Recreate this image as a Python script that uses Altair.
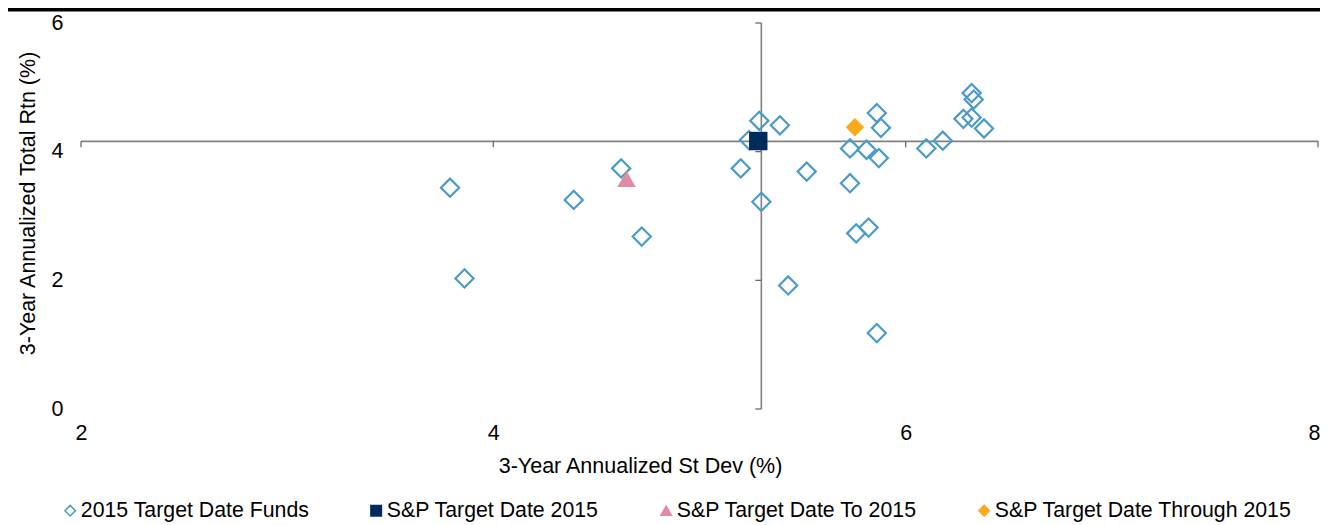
import altair as alt
import pandas as pd

# ---- data ----
series_names = ["2015 Target Date Funds", "S&P Target Date 2015",
                "S&P Target Date To 2015", "S&P Target Date Through 2015"]

fund_sd = [3.79, 3.86, 4.39, 4.62, 4.72, 5.20, 5.30, 5.29, 5.24, 5.39,
           5.43, 5.52, 5.73, 5.81, 5.87, 5.73, 5.86, 5.88, 5.76, 5.82,
           5.86, 6.10, 6.18, 6.28, 6.32, 6.33, 6.32, 6.38]
fund_rtn = [3.44, 2.03, 3.25, 3.74, 2.68, 3.74, 3.22, 4.48, 4.18, 4.41,
            1.92, 3.69, 4.05, 4.03, 3.90, 3.51, 4.60, 4.37, 2.73, 2.82,
            1.18, 4.05, 4.17, 4.51, 4.91, 4.81, 4.53, 4.36]

index_names = ["S&P Target Date 2015", "S&P Target Date To 2015", "S&P Target Date Through 2015"]
index_sd = [5.285, 4.646, 5.754]
index_rtn = [4.165, 3.574, 4.38]

x_ticks = [2, 4, 6, 8]
y_ticks = [0, 2, 4, 6]
cross_sd = 5.30    # where the vertical axis crosses
cross_rtn = 4.16   # where the horizontal axis crosses

# ---- styles ----
FONT = "Liberation Sans"
FS = 21.5
LEG_FS = 21.3
AXIS_GRAY = "#808080"
series_shapes = ["diamond", "square", "triangle-up", "diamond"]
series_stroke = ["#4B9BC7", "#002B5C", "#DE8BA3", "#FBA91C"]
series_fill = ["transparent", "#002B5C", "#DE8BA3", "#FBA91C"]

W, H = 1237, 386

funds = pd.DataFrame({"series": [series_names[0]] * len(fund_sd), "sd": fund_sd, "rtn": fund_rtn})
index = pd.DataFrame({"series": index_names, "sd": index_sd, "rtn": index_rtn})

xscale = alt.Scale(domain=[2, 8], nice=False, zero=False)
yscale = alt.Scale(domain=[0, 6], nice=False, zero=False)

last_x = f"datum.value == {x_ticks[-1]}"
xaxis = alt.Axis(title="3-Year Annualized St Dev (%)", values=x_ticks,
                 labelPadding=24, labelBaseline="middle",
                 labelAlign=alt.ConditionalAxisLabelAlign(condition={"test": last_x, "value": "right"}, value="center"),
                 labelOffset=alt.ConditionalAxisNumber(condition={"test": last_x, "value": 2}, value=0),
                 titleX=559, titleY=57, titleAlign="center", titleBaseline="middle")
yaxis = alt.Axis(title="3-Year Annualized Total Rtn (%)", values=y_ticks,
                 labelPadding=18,
                 titleX=-53, titleY=180, titleAngle=270, titleAlign="center",
                 titleBaseline="middle")

legend = alt.Legend(
    title=None, orient="none", legendX=-21.5, legendY=477, direction="horizontal",
    columns=4, columnPadding=56, labelOffset=0, symbolSize=110,
    symbolStrokeWidth=1.5, labelFontSize=LEG_FS, labelFont=FONT, labelColor="black",
    labelLimit=500,
)


def series_enc():
    return dict(
        x=alt.X("sd:Q", scale=xscale, axis=xaxis),
        y=alt.Y("rtn:Q", scale=yscale, axis=yaxis),
        shape=alt.Shape("series:N", scale=alt.Scale(domain=series_names, range=series_shapes), legend=legend),
        stroke=alt.Stroke("series:N", scale=alt.Scale(domain=series_names, range=series_stroke), legend=legend),
        fill=alt.Fill("series:N", scale=alt.Scale(domain=series_names, range=series_fill), legend=legend),
    )


fund_pts = alt.Chart(funds).mark_point(opacity=1, size=330, strokeWidth=2.2).encode(**series_enc())
index_pts = alt.Chart(index).mark_point(opacity=1, size=340, strokeWidth=0).encode(**series_enc())

hline = alt.Chart(pd.DataFrame({"sd": [x_ticks[0]], "sd2": [x_ticks[-1]], "rtn": [cross_rtn]})).mark_rule(
    color=AXIS_GRAY, strokeWidth=1.6).encode(
    x=alt.X("sd:Q", scale=xscale, axis=xaxis), x2="sd2:Q",
    y=alt.Y("rtn:Q", scale=yscale, axis=yaxis))

vline = alt.Chart(pd.DataFrame({"sd": [cross_sd], "rtn": [y_ticks[0]], "rtn2": [y_ticks[-1]]})).mark_rule(
    color=AXIS_GRAY, strokeWidth=1.6).encode(
    x=alt.X("sd:Q", scale=xscale, axis=xaxis),
    y=alt.Y("rtn:Q", scale=yscale, axis=yaxis), y2="rtn2:Q")

xtick_marks = alt.Chart(pd.DataFrame({"sd": x_ticks, "rtn": [cross_rtn] * len(x_ticks)})).mark_rule(
    color="#6a6a6a", strokeWidth=1.3, y2Offset=6).encode(
    x=alt.X("sd:Q", scale=xscale, axis=xaxis),
    y=alt.Y("rtn:Q", scale=yscale, axis=yaxis), y2="rtn:Q")

ytick_marks = alt.Chart(pd.DataFrame({"sd": [cross_sd] * len(y_ticks), "rtn": y_ticks})).mark_rule(
    color="#6a6a6a", strokeWidth=1.3, x2Offset=-6).encode(
    x=alt.X("sd:Q", scale=xscale, axis=xaxis), x2="sd:Q",
    y=alt.Y("rtn:Q", scale=yscale, axis=yaxis))

top_bar = alt.Chart(pd.DataFrame({"k": [0]})).mark_rect(color="black").encode(
    x=alt.value(-73), x2=alt.value(W + 2), y=alt.value(-15), y2=alt.value(-11.5))

chart = alt.layer(hline, vline, xtick_marks, ytick_marks, fund_pts, index_pts, top_bar).properties(
    width=W, height=H,
    autosize=alt.AutoSizeParams(type="none"),
    padding={"left": 73, "top": 15, "right": 2, "bottom": 116},
    background="white",
).configure_view(stroke=None).configure_axis(
    domain=False, ticks=False, tickSize=0, grid=False, labelFlush=False,
    labelOverlap=False, labelFont=FONT, labelFontSize=FS, labelColor="black",
    titleFont=FONT, titleFontSize=FS, titleFontWeight="normal", titleColor="black",
).configure_legend(padding=0)

chart.save("out.html", embed_options={"renderer": "svg", "actions": False})
